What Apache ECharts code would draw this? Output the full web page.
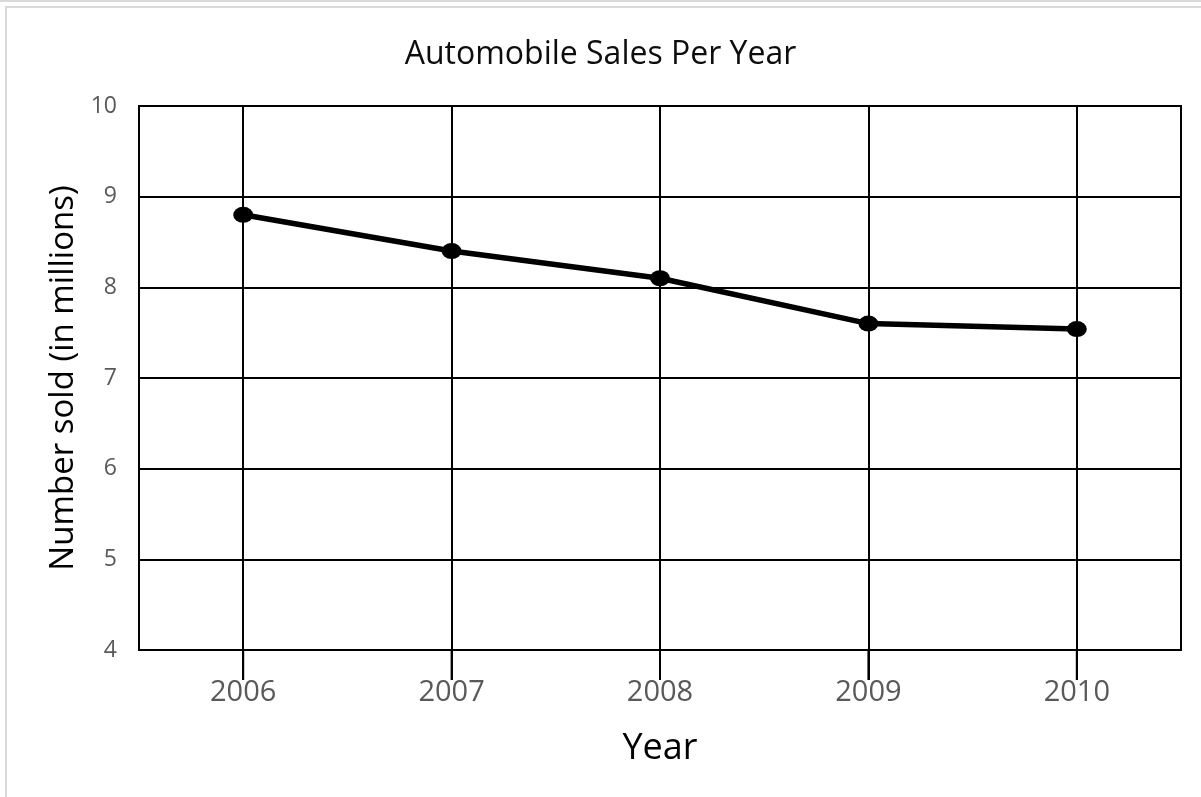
<!DOCTYPE html>
<html>
<head>
<meta charset="utf-8">
<script src="https://cdn.jsdelivr.net/npm/echarts@6/dist/echarts.min.js"></script>
<style>
html,body{margin:0;padding:0;background:#fff;}
#chart{width:1201px;height:797px;}
</style>
</head>
<body>
<div id="chart"></div>
<script>
const years = ['2006', '2007', '2008', '2009', '2010'];
const sales = [8.8, 8.4, 8.1, 7.6, 7.54];
const yTicks = [4, 5, 6, 7, 8, 9, 10];

const FONT = 'Open Sans';
const yMin = yTicks[0];
const chart = echarts.init(document.getElementById('chart'));
chart.setOption({
  backgroundColor: '#fff',
  animation: false,
  title: {
    text: 'Automobile Sales Per Year',
    left: 'center',
    top: 34,
    textStyle: { fontFamily: FONT, fontSize: 32, fontWeight: 'normal', color: '#0d0d0d' }
  },
  graphic: [
    { type: 'rect', shape: { x: 6, y: 7, width: 1220, height: 820 }, style: { fill: 'none', stroke: '#d9d9d9', lineWidth: 2 }, silent: true },
    { type: 'line', shape: { x1: 0, y1: 1, x2: 1201, y2: 1 }, style: { stroke: '#d9d9d9', lineWidth: 2 }, silent: true }
  ],
  grid: {
    left: 139, right: 20, top: 106, bottom: 147,
    show: true, borderColor: '#000', borderWidth: 2, backgroundColor: 'transparent'
  },
  xAxis: {
    type: 'category',
    data: years,
    boundaryGap: true,
    name: 'Year',
    nameLocation: 'middle',
    nameGap: 81,
    nameTextStyle: { fontFamily: FONT, fontSize: 36, color: '#000' },
    axisLine: { show: true, lineStyle: { color: '#000', width: 2 } },
    axisTick: { show: true, alignWithLabel: true, length: 30, inside: false, lineStyle: { color: '#000', width: 2 } },
    axisLabel: { fontFamily: FONT, fontSize: 29, color: '#595959', margin: 28 },
    splitLine: { show: true, alignWithLabel: true, lineStyle: { color: '#000', width: 2 } }
  },
  yAxis: {
    type: 'value',
    min: yMin,
    max: yTicks[yTicks.length - 1],
    interval: 1,
    name: 'Number sold (in millions)',
    nameLocation: 'middle',
    nameGap: 54,
    nameTextStyle: { fontFamily: FONT, fontSize: 33, color: '#000' },
    axisLine: { show: false },
    axisTick: { show: false },
    axisLabel: { fontFamily: FONT, fontSize: 23, color: '#595959', margin: 22 },
    splitLine: { show: true, lineStyle: { color: '#000', width: 2 } }
  },
  series: [{
    type: 'line',
    data: sales,
    symbol: 'circle',
    symbolSize: [20, 16],
    lineStyle: { color: '#000', width: 5.5 },
    itemStyle: { color: '#000' },
    z: 5
  }, {
    type: 'custom',
    silent: true,
    clip: false,
    data: years.map(function (y, i) { return [i, yMin]; }),
    renderItem: function (params, api) {
      const p = api.coord([api.value(0), api.value(1)]);
      return {
        type: 'line',
        shape: { x1: p[0], y1: p[1], x2: p[0], y2: p[1] + 30 },
        style: { stroke: '#000', lineWidth: 2 }
      };
    },
    z: 1
  }]
});
</script>
</body>
</html>
